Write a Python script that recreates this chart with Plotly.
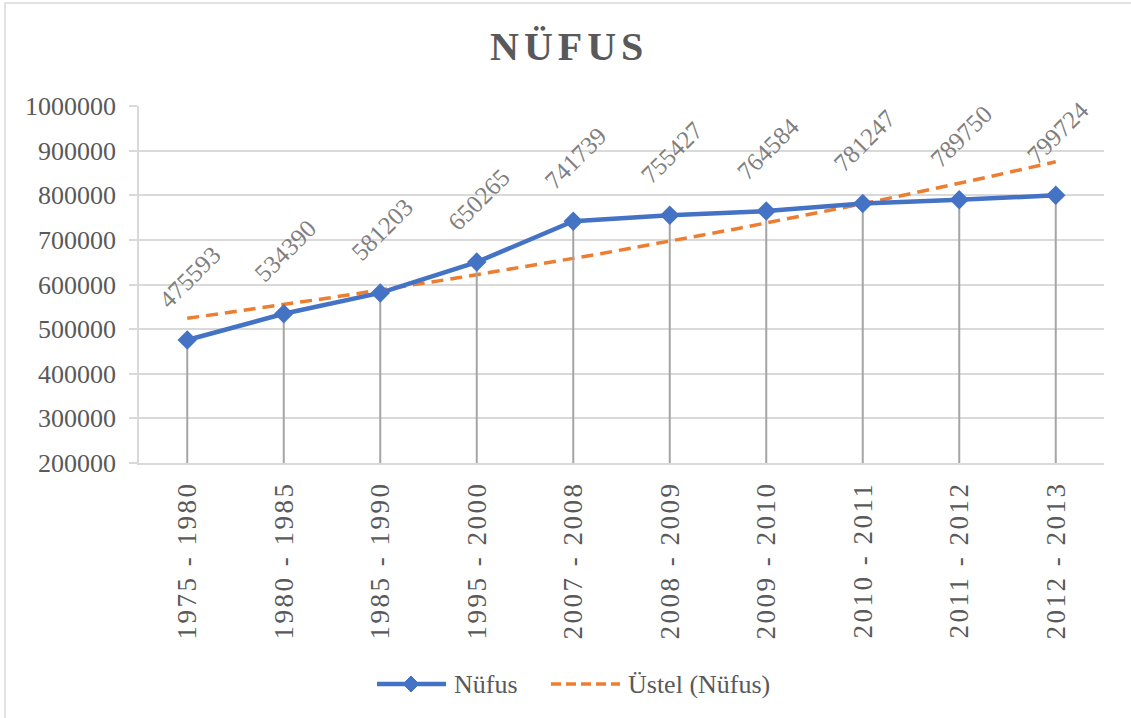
import numpy as np
import plotly.graph_objects as go

# ---- data ----
categories = ["1975 - 1980", "1980 - 1985", "1985 - 1990", "1995 - 2000", "2007 - 2008",
              "2008 - 2009", "2009 - 2010", "2010 - 2011", "2011 - 2012", "2012 - 2013"]
population = [475593, 534390, 581203, 650265, 741739, 755427, 764584, 781247, 789750, 799724]
y_ticks = [200000, 300000, 400000, 500000, 600000, 700000, 800000, 900000, 1000000]

series_name = "Nüfus"
trend_name = "Üstel (Nüfus)"
title_text = "NÜFUS"

# ---- figure geometry (pixels) ----
W, H = 1131, 718
L, R, T, B = 139, 1104, 106, 463
PW, PH = R - L, B - T

def px(xp):
    return (xp - L) / PW

def py(yp):
    return (B - yp) / PH

BLUE = "#4472C4"
ORANGE = "#ED7D31"
GRID = "#D9D9D9"
TXT = "#595959"
FONT = "Liberation Serif"
DASH = "12px,7px"

x_idx = list(range(len(categories)))

# Exponential trendline (least squares fit on log values, as Excel does)
xs = np.arange(1, len(population) + 1)
b, lna = np.polyfit(xs, np.log(population), 1)
xt = np.linspace(1, len(population), 200)
yt = np.exp(lna) * np.exp(b * xt)

fig = go.Figure()

fig.add_trace(go.Scatter(
    x=list(xt - 1), y=list(yt), mode="lines", name=trend_name,
    line=dict(color=ORANGE, width=3.5, dash=DASH),
    showlegend=False, hoverinfo="skip",
))

fig.add_trace(go.Scatter(
    x=x_idx, y=population, mode="lines+markers", name=series_name,
    line=dict(color=BLUE, width=4.5),
    marker=dict(symbol="diamond", size=15, color=BLUE),
    error_y=dict(type="data", symmetric=False,
                 array=[0] * len(population),
                 arrayminus=[v - y_ticks[0] for v in population],
                 width=0, thickness=2, color="#A5A5A5"),
    showlegend=False,
))

annotations = []
for i, v in zip(x_idx, population):
    annotations.append(dict(
        x=i, y=v, xref="x", yref="y", text=str(v), showarrow=False,
        textangle=-45, xanchor="center", yanchor="middle", yshift=63, xshift=2,
        font=dict(family=FONT, size=25, color="#7F7F7F"),
    ))

# title
annotations.append(dict(
    x=px(569), y=py(47), xref="paper", yref="paper", showarrow=False,
    text='<b><span style="letter-spacing:5px">' + title_text + '</span></b>',
    xanchor="center", yanchor="middle",
    font=dict(family=FONT, size=40, color=TXT),
))

# manual legend
leg_y = 684
annotations.append(dict(x=px(452), y=py(leg_y), xref="paper", yref="paper", showarrow=False,
                        text=series_name, xanchor="left", yanchor="middle",
                        font=dict(family=FONT, size=26, color=TXT)))
annotations.append(dict(x=px(626), y=py(leg_y), xref="paper", yref="paper", showarrow=False,
                        text=trend_name, xanchor="left", yanchor="middle",
                        font=dict(family=FONT, size=26, color=TXT)))

shapes = [
    # chart border
    dict(type="rect", xref="paper", yref="paper", x0=px(5), x1=px(1145), y0=py(3), y1=py(735),
         line=dict(color=GRID, width=1.5), fillcolor="rgba(0,0,0,0)", layer="below"),
    # legend: series line
    dict(type="line", xref="paper", yref="paper", x0=px(377), x1=px(446), y0=py(leg_y), y1=py(leg_y),
         line=dict(color=BLUE, width=4.5)),
    dict(type="path", xref="paper", yref="paper",
         path="M {0},{1} L {2},{3} L {4},{1} L {2},{5} Z".format(
             px(403), py(leg_y), px(411), py(leg_y - 8), px(419), py(leg_y + 8)),
         fillcolor=BLUE, line=dict(color=BLUE, width=1)),
    # legend: trend line
    dict(type="line", xref="paper", yref="paper", x0=px(551), x1=px(620), y0=py(leg_y), y1=py(leg_y),
         line=dict(color=ORANGE, width=3.5, dash="10px,5px")),
]

tick_text = ['<span style="letter-spacing:2.5px">' + c + '</span>' for c in categories]

fig.update_layout(
    width=W, height=H,
    margin=dict(l=L, r=W - R, t=T, b=H - B, pad=0),
    paper_bgcolor="white", plot_bgcolor="white",
    font=dict(family=FONT, color=TXT),
    showlegend=False,
    annotations=annotations,
    shapes=shapes,
    xaxis=dict(
        range=[-0.5, len(categories) - 0.5],
        tickmode="array", tickvals=x_idx, ticktext=tick_text,
        tickangle=-90, showgrid=False, zeroline=False,
        showline=True, linecolor=GRID, linewidth=1.5,
        ticks="", tickfont=dict(family=FONT, size=27, color=TXT),
        ticklabelstandoff=6,
    ),
    yaxis=dict(
        range=[y_ticks[0], y_ticks[-1]],
        tickmode="array", tickvals=y_ticks, ticktext=[str(t) for t in y_ticks],
        showgrid=True, gridcolor=GRID, gridwidth=1.5,
        zeroline=False, showline=True, linecolor=GRID, linewidth=1.5,
        ticks="outside", ticklen=8, tickcolor=GRID, tickwidth=1.5,
        tickfont=dict(family=FONT, size=26, color=TXT),
        ticklabelstandoff=8,
    ),
)

fig.write_html("out.html", config={"displayModeBar": False},
               post_script="document.body.style.margin='0';")
